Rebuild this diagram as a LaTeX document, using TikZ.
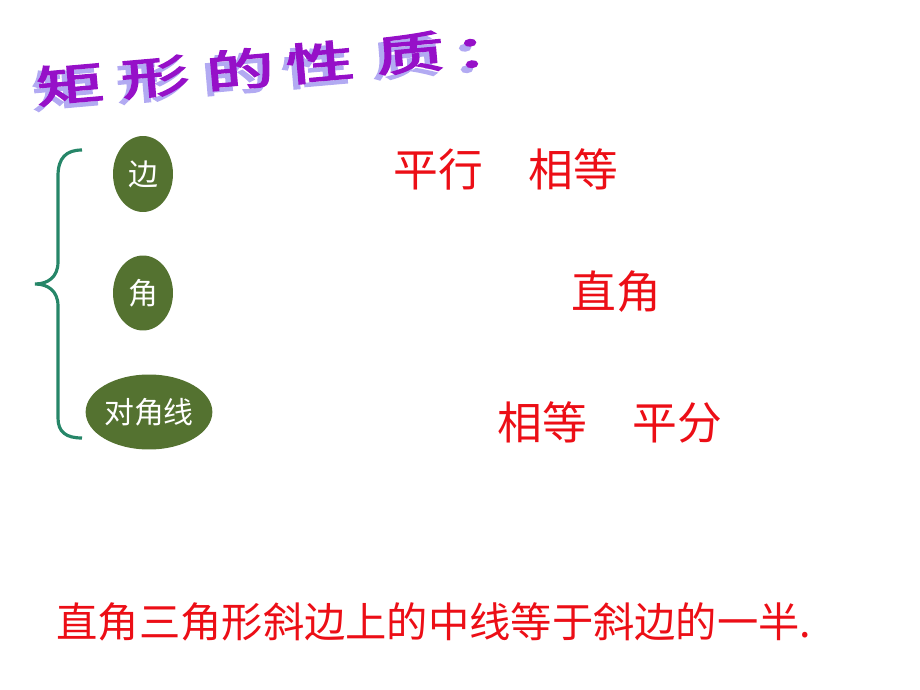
\documentclass[tikz,border=0pt]{standalone}
\usepackage{fontspec}
\usetikzlibrary{shapes.geometric}
\newfontfamily\cjk{Noto Sans CJK SC}
\newfontfamily\cjkbold[FakeBold=3]{Noto Sans CJK SC}
\definecolor{wordpurple}{RGB}{150, 16, 200}
\definecolor{wordshadow}{RGB}{178, 170, 242}
\definecolor{bracegreen}{RGB}{38, 134, 104}
\definecolor{leafgreen}{RGB}{84, 114, 48}
\definecolor{propred}{RGB}{236, 14, 22}

\begin{document}
\begin{tikzpicture}[x=0.02cm, y=-0.02cm,
  leaf/.style={ellipse, fill=leafgreen, inner sep=0pt, text=white, font=\cjk\fontsize{17pt}{20pt}\selectfont},
  prop/.style={text=propred, inner sep=0pt, font=\cjk\fontsize{25.5pt}{30pt}\selectfont},
  wordart/.style={inner sep=0pt, rotate=5, font=\cjkbold\fontsize{25pt}{30pt}\selectfont}]
  \useasboundingbox (0,0) rectangle (920,690);

  % Title, one character at a time with its shadow
  \foreach \ch/\px/\py [count=\i] in {矩/70/84, 形/155/77, 的/240/69, 性/320/62, 质/410/53, ：/488/52} {
    \node[wordart, wordshadow] (shadow\i) at (\px-5,\py+5) {\scalebox{1.55}[1]{\ch}};
    \node[wordart, wordpurple] (title\i) at (\px,\py) {\scalebox{1.55}[1]{\ch}};
  }

  % Brace
  \coordinate (bracetop) at (82,150);
  \coordinate (bracetip) at (35,284);
  \coordinate (bracebot) at (82,438);
  \draw[bracegreen, line width=1.8pt] (bracetop) .. controls (66,150) and (58,158) .. (58,176)
    -- (58,262) .. controls (58,277) and (48,284) .. (bracetip)
    .. controls (48,284) and (58,291) .. (58,306)
    -- (58,418) .. controls (58,432) and (66,438) .. (bracebot);

  % Items
  \node[leaf, minimum width=1.2cm, minimum height=1.52cm] (side) at (143,174) {边};
  \node[leaf, minimum width=1.2cm, minimum height=1.5cm] (angle) at (143,293) {角};
  \node[leaf, minimum width=2.26cm, minimum height=1.5cm] (diag) at (149,412) {对角线};

  % Properties
  \node[prop] (sideprop) at (506,169) {平行　相等};
  \node[prop] (angleprop) at (616,292) {直角};
  \node[prop] (diagprop) at (610,422) {相等　平分};

  % Right triangle rule
  \node[prop, font=\cjk\fontsize{23.5pt}{28pt}\selectfont] (rule) at (434,622) {直角三角形斜边上的中线等于斜边的一半.};
\end{tikzpicture}
\end{document}
